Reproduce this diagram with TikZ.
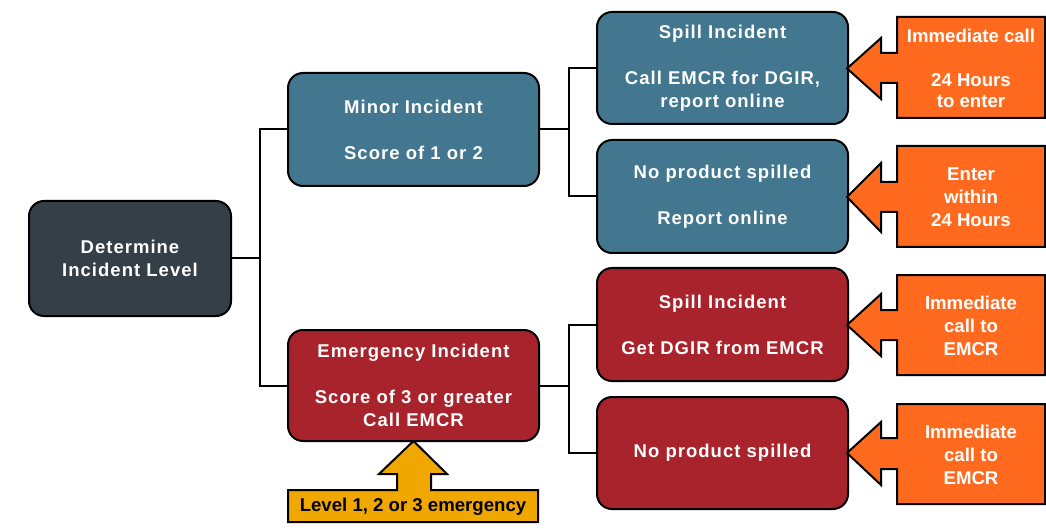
\documentclass[tikz,border=0pt]{standalone}
\usepackage{fontspec}
\setmainfont{Liberation Sans}
\newfontfamily\boxfont{Liberation Sans}[LetterSpace=5.5]
\definecolor{bluebox}{RGB}{67,119,143}
\definecolor{redbox}{RGB}{168,35,43}
\definecolor{darkbox}{RGB}{52,63,72}
\definecolor{orangecall}{RGB}{255,106,31}
\definecolor{yellowcall}{RGB}{240,168,0}
\tikzset{
  boxbase/.style={draw=black, line width=2pt, rounded corners=15pt, inner sep=0pt, outer sep=0pt,
    minimum width=251pt, align=center, text=white,
    font=\boxfont\fontsize{18.5}{23}\selectfont\bfseries},
  bluenode/.style={boxbase, fill=bluebox},
  rednode/.style={boxbase, fill=redbox},
  darknode/.style={boxbase, fill=darkbox},
  calltext/.style={align=center, text=white, inner sep=0pt, font=\fontsize{18.6}{23}\selectfont\bfseries},
  callshape/.style={draw=black, line width=2pt, fill=orangecall, line join=miter},
  yellowshape/.style={draw=black, line width=2pt, fill=yellowcall, line join=miter},
  wire/.style={draw=black, line width=2pt}
}
\begin{document}
\begin{tikzpicture}[x=1pt,y=-1pt]
\useasboundingbox (0,0) rectangle (1046,529);
\coordinate (j1) at (260,258.5);
\coordinate (j2) at (569,129.5);
\coordinate (j3) at (569,385.5);
% main boxes
\node[darknode, minimum width=202pt, minimum height=115pt] (det) at (130,258.5) {Determine\\Incident Level};
\node[bluenode, minimum height=113pt] (minor) at (413.5,129.5) {Minor Incident\\[23pt]Score of 1 or 2};
\node[rednode, minimum height=111pt] (emer) at (413.5,385.5) {Emergency Incident\\[23pt]Score of 3 or greater\\Call EMCR};
\node[bluenode, minimum height=112pt] (spill1) at (722.5,68) {Spill Incident\\[23pt]Call EMCR for DGIR,\\report online};
\node[bluenode, minimum height=113pt] (np1) at (722.5,196.5) {No product spilled\\[23pt]Report online};
\node[rednode, minimum height=113pt] (spill2) at (722.5,324.5) {Spill Incident\\[23pt]Get DGIR from EMCR};
\node[rednode, minimum height=112pt] (np2) at (722.5,453) {No product spilled};
% wires
\draw[wire] (det.east) -- (j1);
\draw[wire] (minor.west) -| (j1) |- (emer.west);
\draw[wire] (minor.east) -- (j2);
\draw[wire] (spill1.west) -| (j2) |- (np1.west);
\draw[wire] (emer.east) -- (j3);
\draw[wire] (spill2.west) -| (j3) |- (np2.west);
% orange callouts
\draw[callshape] (897,17) -- (1045,17) -- (1045,118) -- (897,118) -- (897,83) -- (881,83) -- (881,99) -- (847,68.5) -- (881,38) -- (881,53) -- (897,53) -- cycle;
\node[calltext] (c1) at (971,68.5) {Immediate call\\[21pt]24 Hours\\[-2pt]to enter};
\draw[callshape] (897,146) -- (1045,146) -- (1045,247) -- (897,247) -- (897,212) -- (881,212) -- (881,232) -- (847,197) -- (881,163) -- (881,182) -- (897,182) -- cycle;
\node[calltext] (c2) at (971,197.5) {Enter\\within\\24 Hours};
\draw[callshape] (897,275) -- (1045,275) -- (1045,375) -- (897,375) -- (897,340) -- (881,340) -- (881,356) -- (847,325) -- (881,294) -- (881,310) -- (897,310) -- cycle;
\node[calltext] (c3) at (971,326) {Immediate\\call to\\EMCR};
\draw[callshape] (897,404) -- (1045,404) -- (1045,504) -- (897,504) -- (897,469) -- (881,469) -- (881,485) -- (847,453) -- (881,422) -- (881,438) -- (897,438) -- cycle;
\node[calltext] (c4) at (971,454.5) {Immediate\\call to\\EMCR};
% yellow arrow
\draw[yellowshape] (288,490) -- (397,490) -- (397,474) -- (379,474) -- (emer.south) -- (447,474) -- (431,474) -- (431,490) -- (538,490) -- (538,522) -- (288,522) -- cycle;
\node[calltext, text=black] (lvl) at (413,507) {Level 1, 2 or 3 emergency};
\end{tikzpicture}
\end{document}
